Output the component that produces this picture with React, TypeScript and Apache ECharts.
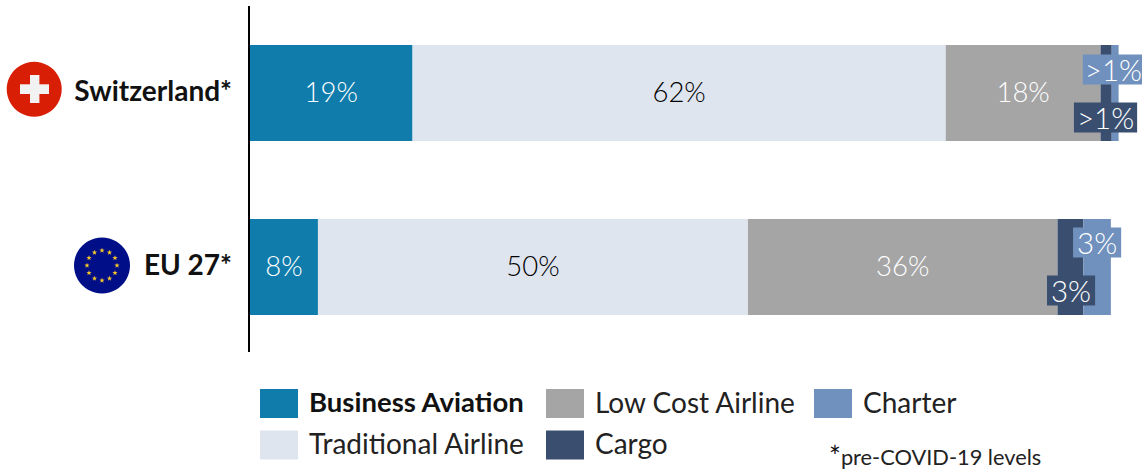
import React, { useEffect, useRef } from "react";
import * as echarts from "echarts";

const categories = ["Switzerland*", "EU 27*"];
const businessAviation = [18.9, 7.9];
const traditionalAirline = [62, 50];
const lowCostAirline = [18, 36];
const cargo = [1.3, 3];
const charter = [0.8, 3.2];
const businessLabels = ["19%", "8%"];
const traditionalLabels = ["62%", "50%"];
const lowCostLabels = ["18%", "36%"];
const cargoLabels = [">1%", "3%"];
const charterLabels = [">1%", "3%"];

const FONT = "Lato";
const BLUE = "#0f7cac";
const PALE = "#dfe5ef";
const GRAY = "#a5a5a5";
const NAVY = "#3a4f70";
const STEEL = "#7090bd";

function starPoints(cx: number, cy: number, R: number) {
  const pts: number[][] = [];
  for (let i = 0; i < 10; i++) {
    const r = i % 2 === 0 ? R : R * 0.4;
    const a = -Math.PI / 2 + (i * Math.PI) / 5;
    pts.push([cx + r * Math.cos(a), cy + r * Math.sin(a)]);
  }
  return pts;
}

export default function App() {
  const ref = useRef<HTMLDivElement>(null);
  useEffect(() => {
    document.body.style.margin = "0";
    const chart = echarts.init(ref.current!, null, { renderer: "svg" });
    const base = (name: string, data: number[], color: string, labels: string[], label: any) => ({
      name,
      type: "bar",
      stack: "total",
      barWidth: 96,
      data: data.map((value, i) => ({
        value,
        label: { ...label, ...(label.perItem ? label.perItem[i] : {}), perItem: undefined, formatter: labels[i] },
      })),
      itemStyle: { color },
      label: { show: true },
    });
    const labelBase = {
      show: true,
      position: "inside",
      fontFamily: FONT,
      fontWeight: 300,
      fontSize: 27.5,
      offset: [0, -2],
    };
    const stars = Array.from({ length: 12 }, (_, i) => {
      const a = (i * Math.PI) / 6;
      return {
        type: "polygon",
        shape: { points: starPoints(102 + 15 * Math.sin(a), 265.5 - 15 * Math.cos(a), 2.8) },
        style: { fill: "#f7c72a" },
      };
    });
    const legendRich = {
      n: { fontFamily: FONT, fontWeight: 400, fontSize: 28, color: "#222", padding: [0, 0, 4, 6] },
      b: { fontFamily: FONT, fontWeight: 700, fontSize: 27.5, color: "#111", padding: [0, 0, 4, 6] },
    };
    chart.setOption({
      animation: false,
      grid: { left: 250, top: 6, width: 885.8, height: 348, containLabel: false },
      xAxis: { type: "value", min: 0, max: 103, show: false },
      yAxis: {
        type: "category",
        data: categories,
        inverse: true,
        axisTick: { show: false },
        axisLine: { show: false },
        axisLabel: {
          margin: 18,
          formatter: (v: string) => `{a|${v}}`,
          rich: { a: { fontFamily: FONT, fontWeight: 700, fontSize: 28, color: "#111", padding: [0, 0, 6, 0] } },
        },
      },
      legend: [
        { left: 260, data: ["Business Aviation", "Traditional Airline"] },
        { left: 546, data: ["Low Cost Airline", "Cargo"] },
        { left: 814, data: ["Charter"] },
      ].map((l) => ({
        ...l,
        top: 387.5,
        orient: "vertical",
        itemWidth: 38,
        itemHeight: 29,
        itemGap: 11,
        padding: 0,
        icon: "rect",
        selectedMode: false,
        itemStyle: { borderWidth: 0 },
        formatter: (name: string) => (name === "Business Aviation" ? `{b|${name}}` : `{n|${name}}`),
        textStyle: { rich: legendRich },
      })),
      series: [
        base("Business Aviation", businessAviation, BLUE, businessLabels, { ...labelBase, color: "#fff" }),
        base("Traditional Airline", traditionalAirline, PALE, traditionalLabels, { ...labelBase, color: "#000" }),
        base("Low Cost Airline", lowCostAirline, GRAY, lowCostLabels, { ...labelBase, color: "#fff" }),
        base("Cargo", cargo, NAVY, cargoLabels, {
          ...labelBase,
          fontSize: 29.5,
          color: "#fff",
          backgroundColor: NAVY,
          perItem: [
            { offset: [-0.6, 24.5], padding: [0, 3, 0, 3] },
            { offset: [0.6, 23.5], padding: [0, 4, 0, 4] },
          ],
        }),
        base("Charter", charter, STEEL, charterLabels, {
          ...labelBase,
          fontSize: 29.5,
          color: "#fff",
          backgroundColor: STEEL,
          perItem: [
            { offset: [-1.7, -23.5], padding: [0, 2, 0, 2] },
            { offset: [0, -24.5], padding: [0, 4, 0, 4] },
          ],
        }),
      ],
      graphic: [
        { type: "line", shape: { x1: 249, y1: 6, x2: 249, y2: 352 }, style: { stroke: "#000", lineWidth: 2 } },
        { type: "circle", shape: { cx: 34.2, cy: 89.2, r: 27.5 }, style: { fill: "#d81e05" } },
        { type: "rect", shape: { x: 20, y: 84.3, width: 29, height: 9.7 }, style: { fill: "#f2f2f2" } },
        { type: "rect", shape: { x: 30, y: 75, width: 9.4, height: 28 }, style: { fill: "#f2f2f2" } },
        { type: "circle", shape: { cx: 102, cy: 265.5, r: 28 }, style: { fill: "#000f87" } },
        ...stars,
        {
          type: "text",
          left: 829,
          top: 442,
          style: {
            text: "{a|*}{b|pre-COVID-19 levels}",
            rich: {
              a: { fontFamily: FONT, fontSize: 28, fill: "#111", fontWeight: 400 },
              b: { fontFamily: FONT, fontSize: 21.8, fill: "#222", fontWeight: 400 },
            },
          },
        },
      ],
    });
    return () => chart.dispose();
  }, []);
  return <div ref={ref} style={{ position: "absolute", left: 0, top: 0, width: 1142, height: 472, background: "#fff" }} />;
}
